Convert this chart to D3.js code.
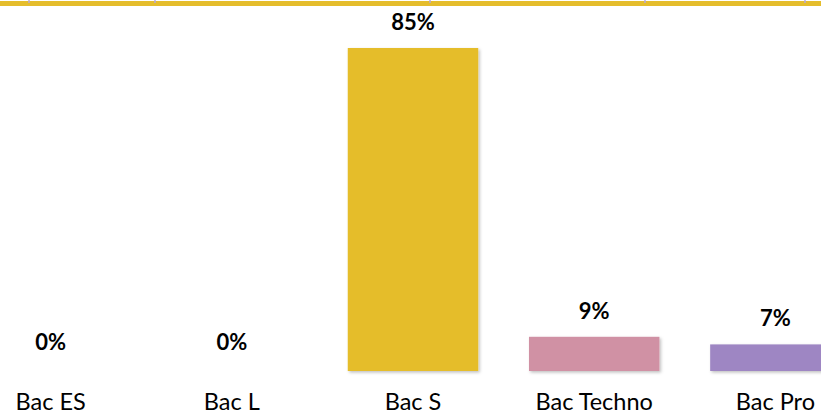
<!DOCTYPE html>
<html>
<head>
<meta charset="utf-8">
<script src="https://cdn.jsdelivr.net/npm/d3@7"></script>
<style>
  body { margin: 0; background: #fff; }
  svg { display: block; }
</style>
</head>
<body>
<div id="chart"></div>
<script>
// chart data
var categories = ["Bac ES", "Bac L", "Bac S", "Bac Techno", "Bac Pro"]
var values = [0, 0, 85, 9, 7]
var colors = ["#E5BD2C", "#E5BD2C", "#E5BD2C", "#D091A4", "#9E86C3"]
var topTicks = [29, 155, 430, 645, 805]   // little marks above the top band (px)

var width = 821
var height = 414

var svg = d3.select("#chart")
  .append("svg")
    .attr("width", width)
    .attr("height", height)

// soft shadow under the bars
var defs = svg.append("defs")
var filter = defs.append("filter")
    .attr("id", "shadow")
    .attr("x", "-10%").attr("y", "-10%")
    .attr("width", "130%").attr("height", "130%")
filter.append("feDropShadow")
    .attr("dx", 1.5).attr("dy", 1.5)
    .attr("stdDeviation", 1.5)
    .attr("flood-color", "#000")
    .attr("flood-opacity", 0.25)

// scales
var x = d3.scaleBand()
  .domain(categories)
  .range([-40, 866])
  .paddingInner(0.28)
  .paddingOuter(0.14)

var y = d3.scaleLinear()
  .domain([0, 85])
  .range([371, 48])

// top band
svg.append("rect")
    .attr("x", 0)
    .attr("y", 1)
    .attr("width", width)
    .attr("height", 5)
    .attr("fill", "#E5BD2C")

svg.selectAll(".tick-top")
  .data(topTicks)
  .enter().append("line")
    .attr("class", "tick-top")
    .attr("x1", function(d){ return d }).attr("x2", function(d){ return d })
    .attr("y1", 0).attr("y2", 3)
    .attr("stroke", "#B9A9D6")
    .attr("stroke-width", 1.5)

// bars
svg.append("g")
  .selectAll("rect")
  .data(values)
  .enter().append("rect")
    .attr("x", function(d, i){ return x(categories[i]) })
    .attr("y", function(d){ return y(d) })
    .attr("width", x.bandwidth())
    .attr("height", function(d){ return y(0) - y(d) })
    .attr("fill", function(d, i){ return colors[i] })
    .style("filter", function(d){ return d > 0 ? "url(#shadow)" : null })

// value labels
svg.append("g")
  .selectAll("text")
  .data(values)
  .enter().append("text")
    .attr("x", function(d, i){ return x(categories[i]) + x.bandwidth() / 2 })
    .attr("y", function(d){ return y(d) - (d > 0 ? 18 : 21) })
    .attr("text-anchor", "middle")
    .style("font-family", "Lato, 'Open Sans', sans-serif")
    .style("font-weight", "bold")
    .style("font-size", "22px")
    .attr("fill", "#000")
    .text(function(d){ return d + "%" })

// category labels
svg.append("g")
  .selectAll("text")
  .data(categories)
  .enter().append("text")
    .attr("x", function(d){ return x(d) + x.bandwidth() / 2 })
    .attr("y", 410)
    .attr("text-anchor", "middle")
    .style("font-family", "Lato, 'Open Sans', sans-serif")
    .style("font-size", "23.5px")
    .attr("fill", "#000")
    .text(function(d){ return d })
</script>
</body>
</html>
